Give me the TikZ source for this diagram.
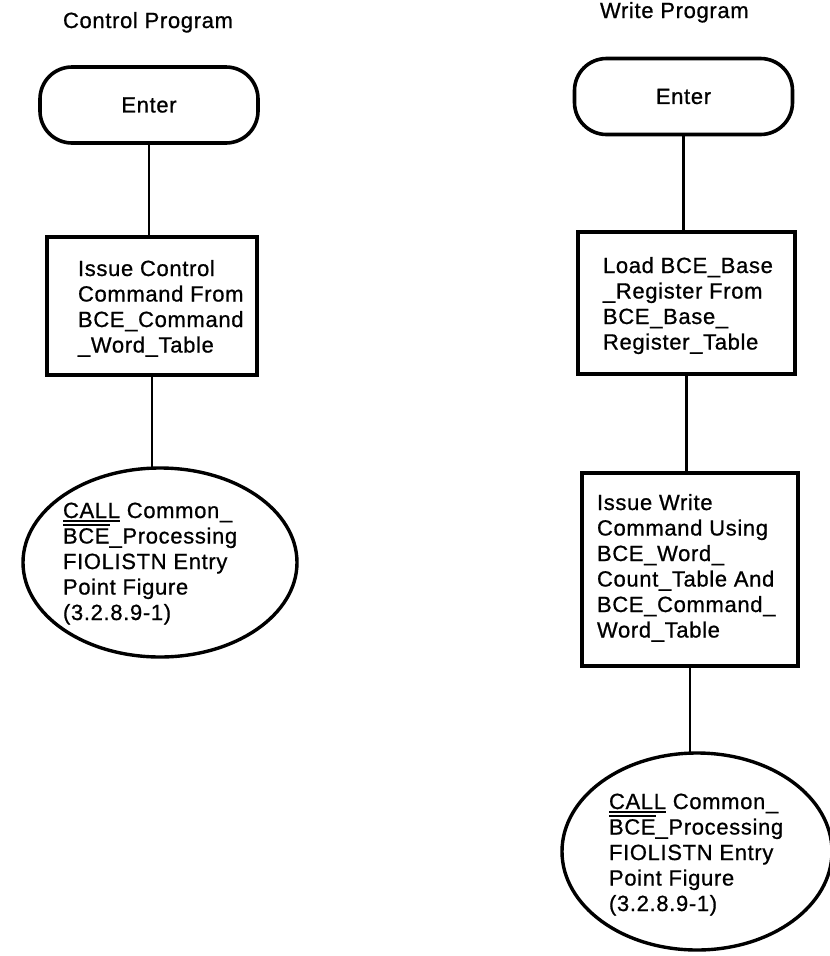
\documentclass[tikz,border=0pt]{standalone}
\usepackage{fontspec}
\setmainfont{Liberation Sans}[LetterSpace=3.0, FakeBold=0.8]
\usetikzlibrary{shapes.geometric}

% underlined / overlined words with a heavier rule than \underline
\newcommand\undl[1]{\vtop{\hbox{#1}\kern2.2pt\hrule height 1.6pt}}
\newcommand\ovrl[1]{\vbox{\hrule height 1.6pt\kern2.2pt\hbox{#1}}}
% left-aligned block of lines whose baseline is the first line
\newcommand\txtlines[1]{\begin{tabular}[t]{@{}l@{}}#1\end{tabular}}

\begin{document}
\begin{tikzpicture}[x=1pt,y=-1pt,
  every node/.style={inner sep=0pt, outer sep=0pt},
  txtfont/.style={font=\fontsize{22}{25.5}\selectfont},
  lbl/.style={txtfont, anchor=base west},
  terminal/.style={draw, txtfont, line width=3.6pt, rounded corners=32pt,
    minimum width=218pt, minimum height=76pt},
  procbox/.style={draw, line width=3.8pt},
  callnode/.style={ellipse, draw, line width=3.4pt},
  flow/.style={line width=2.6pt},
]
\clip (0,0) rectangle (830,956);

% ---- Control program ----
\node[lbl] (titleL) at (63,28) {Control Program};
\node[terminal] (enterL) at (149,105) {Enter};
\node[procbox, minimum width=210pt, minimum height=138pt] (boxL) at (152,306) {};
\node[lbl] (txtL) at (78,276) {\txtlines{Issue Control\\Command From\\BCE\_Command\\\_Word\_Table}};
\node[callnode, minimum width=274pt, minimum height=189pt] (ovalL) at (160,562.5) {};
\node[lbl] (callL) at (63,518) {\txtlines{\undl{CALL} Common\_\\\smash{\ovrl{BCE}}\_Processing\\FIOLISTN Entry\\Point Figure\\(3.2.8.9-1)}};

\draw[flow] (enterL.south) -- (enterL.south |- boxL.north);
\draw[flow] (boxL.south) -- (boxL.south |- ovalL.north);

% ---- Write program ----
\node[lbl] (titleR) at (600,18) {Write Program};
\node[terminal] (enterR) at (683.5,96.5) {Enter};
\node[procbox, minimum width=217pt, minimum height=142pt] (boxR1) at (686.5,303) {};
\node[lbl] (txtR1) at (603,273) {\txtlines{Load BCE\_Base\\\_Register From\\BCE\_Base\_\\Register\_Table}};
\node[procbox, minimum width=216pt, minimum height=193pt] (boxR2) at (690,569.5) {};
\node[lbl] (txtR2) at (597,510) {\txtlines{Issue Write\\Command Using\\BCE\_Word\_\\Count\_Table And\\BCE\_Command\_\\Word\_Table}};
\node[callnode, minimum width=270pt, minimum height=197pt] (ovalR) at (697,851.5) {};
\node[lbl] (callR) at (609,809) {\txtlines{\undl{CALL} Common\_\\\smash{\ovrl{BCE}}\_Processing\\FIOLISTN Entry\\Point Figure\\(3.2.8.9-1)}};

\draw[flow] (enterR.south) -- (enterR.south |- boxR1.north);
\draw[flow] (boxR1.south) -- (boxR1.south |- boxR2.north);
\draw[flow] (boxR2.south) -- (boxR2.south |- ovalR.north);
\end{tikzpicture}
\end{document}
